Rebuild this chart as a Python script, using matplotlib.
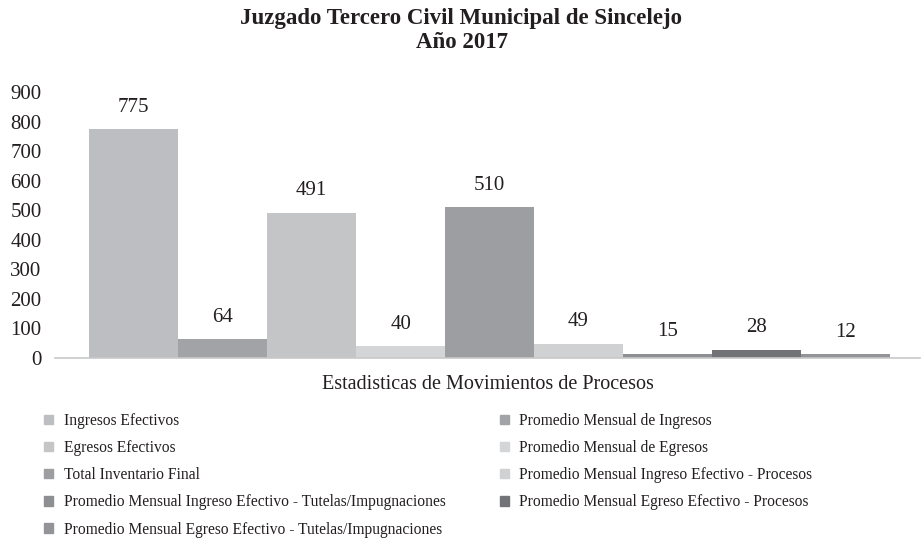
import matplotlib.pyplot as plt
import matplotlib.patches as mpatches
import numpy as np

plt.rcParams['font.family'] = ['Liberation Serif', 'DejaVu Serif']

# datos (orden de las barras)
labels = [
    "Ingresos Efectivos",
    "Promedio Mensual de Ingresos",
    "Egresos Efectivos",
    "Promedio Mensual de Egresos",
    "Total Inventario Final",
    "Promedio Mensual Ingreso Efectivo - Procesos",
    "Promedio Mensual Ingreso Efectivo - Tutelas/Impugnaciones",
    "Promedio Mensual Egreso Efectivo - Procesos",
    "Promedio Mensual Egreso Efectivo - Tutelas/Impugnaciones",
]
values = [775, 64, 491, 40, 510, 49, 15, 28, 12]
colors = ["#bdbec1", "#a2a3a6", "#c4c5c7", "#d4d5d7", "#9d9ea1",
          "#d0d1d3", "#8e8f92", "#727376", "#939497"]
yticks = [0, 100, 200, 300, 400, 500, 600, 700, 800, 900]

# orden de la leyenda (dos columnas)
legend_col1 = [0, 2, 4, 6, 8]
legend_col2 = [1, 3, 5, 7]

fig = plt.figure(figsize=(9.23, 5.42), dpi=100)
ax = fig.add_axes([0.06, 0.3395, 0.937, 0.4905])

x = np.arange(len(values))
bars = ax.bar(x, values, width=1.0, color=colors, edgecolor='none')

for xi, v in zip(x, values):
    ax.annotate(str(v), xy=(xi, v), xytext=(0, 9), textcoords='offset points',
                ha='center', va='bottom', fontsize=15, color='#231f20')

ax.set_xlim(-0.88, 8.84)
ax.set_ylim(0, 900)
ax.set_yticks(yticks)
ax.set_yticklabels([str(t) for t in yticks], fontsize=15, color='#231f20')
ax.tick_params(axis='y', length=0, pad=10)
ax.set_xticks([])
for s in ['top', 'right', 'left']:
    ax.spines[s].set_visible(False)
ax.spines['bottom'].set_color('#c8c8c8')
ax.spines['bottom'].set_linewidth(1.2)

ax.set_xlabel("Estadisticas de Movimientos de Procesos", fontsize=14.5,
              color='#231f20', labelpad=12)

fig.text(0.5, 0.965, "Juzgado Tercero Civil Municipal de Sincelejo",
         ha='center', va='center', fontsize=16.5, fontweight='bold', color='#231f20')
fig.text(0.5, 0.921, "Año 2017",
         ha='center', va='center', fontsize=16.5, fontweight='bold', color='#231f20')

def make_legend(idx, x0):
    handles = [mpatches.Patch(color=colors[i], label=labels[i]) for i in idx]
    leg = fig.legend(handles=handles, loc='upper left', bbox_to_anchor=(x0, 0.25),
                     frameon=False, fontsize=11.2, handlelength=0.55, handleheight=0.55,
                     handletextpad=0.7, labelspacing=0.72, borderaxespad=0)
    for t in leg.get_texts():
        t.set_color('#231f20')
    return leg

make_legend(legend_col1, 0.041)
make_legend(legend_col2, 0.535)

fig.savefig('out.png', dpi=100)
